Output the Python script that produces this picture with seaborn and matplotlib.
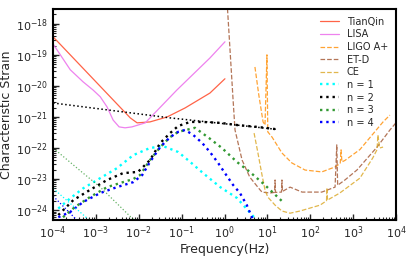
import numpy as np
import pandas as pd
import matplotlib
matplotlib.use("Agg")
import matplotlib.pyplot as plt
import seaborn as sns

# all values are log10(frequency / Hz) and log10(characteristic strain)
tianqin_lf = [-4.0, -2.20, -2.04, -1.74, -1.34, -0.92, -0.34, 0.01]
tianqin_lh = [-18.42, -21.03, -21.19, -21.16, -21.00, -20.71, -20.23, -19.77]

lisa_lf = [-4.0, -3.60, -3.30, -3.07, -2.90, -2.74, -2.60, -2.46, -2.32, -2.16, -1.85, -1.11, -0.34, 0.01]
lisa_lh = [-18.65, -19.48, -19.87, -20.13, -20.35, -20.68, -21.10, -21.32, -21.35, -21.32, -21.19, -20.13, -19.10, -18.58]

ligo_lf = [0.71, 0.80, 0.90, 0.945, 0.99, 1.01, 1.11, 1.34, 1.57, 1.88, 2.27, 2.58, 2.70, 2.72, 2.74, 2.81, 3.16, 3.70, 3.86]
ligo_lh = [-19.39, -20.29, -21.16, -21.26, -19.00, -21.48, -21.65, -22.16, -22.48, -22.71, -22.77, -22.61, -22.50, -22.06, -22.45, -22.40, -22.05, -21.16, -20.94]

etd_lf = [0.06, 0.20, 0.245, 0.41, 0.59, 0.83, 0.875, 1.06, 1.17, 1.18, 1.19, 1.33, 1.34, 1.35, 1.53, 1.81, 2.27, 2.58, 2.62, 2.64, 2.81, 3.09, 3.56, 3.86, 4.0]
etd_lh = [-17.30, -20.45, -21.42, -22.39, -22.94, -23.35, -23.42, -23.45, -23.43, -23.03, -23.43, -23.42, -23.03, -23.40, -23.26, -23.42, -23.42, -23.26, -21.90, -23.20, -23.03, -22.71, -21.97, -21.42, -21.19]

ce_lf = [0.69, 0.78, 0.875, 0.945, 1.01, 1.18, 1.34, 1.53, 1.76, 2.23, 2.38, 2.39, 2.40, 2.69, 3.16, 3.46, 3.56, 3.58, 3.62, 3.70]
ce_lh = [-21.52, -22.16, -22.87, -23.35, -23.58, -23.84, -24.03, -24.10, -24.03, -23.84, -23.70, -23.29, -23.68, -23.45, -22.97, -22.32, -22.05, -21.58, -22.00, -21.97]

n1_lf = [-3.88, -3.60, -3.30, -2.90, -2.51, -2.13, -1.74, -1.43, -1.08, -0.80, -0.50, -0.10, 0.29, 0.71, 0.85]
n1_lh = [-23.95, -23.62, -23.30, -22.97, -22.65, -22.23, -22.00, -21.94, -22.13, -22.45, -22.81, -23.26, -23.61, -24.26, -24.60]

n2_lf = [-3.88, -3.53, -3.14, -2.74, -2.37, -2.02, -1.90, -1.74, -1.50, -1.27, -1.08, -0.80, -0.52, -0.10, 0.29, 0.76, 1.18]
n2_lh = [-24.16, -23.68, -23.35, -23.03, -22.81, -22.77, -22.61, -22.39, -21.84, -21.52, -21.29, -21.16, -21.16, -21.19, -21.26, -21.32, -21.39]

n3_lf = [-3.77, -3.49, -3.14, -2.74, -2.37, -2.13, -1.97, -1.74, -1.50, -1.27, -1.08, -0.69, -0.36, -0.06, 0.29, 0.59, 0.94, 1.34]
n3_lh = [-24.23, -23.90, -23.58, -23.26, -23.10, -23.00, -22.87, -22.39, -21.97, -21.65, -21.48, -21.35, -21.68, -22.00, -22.45, -22.77, -23.19, -23.71]

n4_lf = [-3.88, -3.60, -3.30, -2.90, -2.51, -2.13, -1.92, -1.74, -1.50, -1.27, -1.08, -0.92, -0.73, -0.52, -0.34, -0.15, 0.01, 0.20, 0.36, 0.52, 0.64, 0.75]
n4_lh = [-24.23, -24.06, -23.74, -23.45, -23.26, -23.10, -22.87, -22.45, -21.97, -21.65, -21.48, -21.42, -21.58, -21.84, -22.13, -22.48, -22.81, -23.19, -23.45, -23.84, -24.23, -24.60]

# thin low-frequency branches
line2_lf = [-4.0, -1.27, 1.22]
line2_lh = [-20.55, -21.03, -21.40]
low3_lf = [-4.0, -3.30, -2.90, -2.16, -2.05]
low3_lh = [-22.00, -22.81, -23.26, -24.26, -24.40]
low1_lf = [-4.0, -3.21, -3.10]
low1_lh = [-23.30, -24.26, -24.40]
low4_lf = [-4.0, -3.49, -3.40]
low4_lh = [-23.55, -24.26, -24.40]


def curve(ax, lf, lh, **kw):
    df = pd.DataFrame({"f": 10.0 ** np.array(lf), "h": 10.0 ** np.array(lh)})
    sns.lineplot(data=df, x="f", y="h", ax=ax, sort=False, estimator=None, **kw)


sns.set_style("ticks")
plt.rcParams["font.family"] = ["DejaVu Sans"]

fig = plt.figure(figsize=(4.15, 2.57), dpi=100)
ax = fig.add_axes([0.128, 0.144, 0.826, 0.821])

curve(ax, tianqin_lf, tianqin_lh, color="tomato", lw=0.9, label="TianQin")
curve(ax, lisa_lf, lisa_lh, color="violet", lw=0.9, label="LISA")
curve(ax, ligo_lf, ligo_lh, color="darkorange", alpha=0.8, lw=0.9, linestyle="--", label="LIGO A+")
curve(ax, etd_lf, etd_lh, color="sienna", alpha=0.8, lw=0.9, linestyle="--", label="ET-D")
curve(ax, ce_lf, ce_lh, color="goldenrod", alpha=0.8, lw=0.9, linestyle="--", label="CE")
curve(ax, n1_lf, n1_lh, color="cyan", lw=1.7, linestyle=":", label="n = 1")
curve(ax, n2_lf, n2_lh, color="black", lw=1.7, linestyle=":", label="n = 2")
curve(ax, n3_lf, n3_lh, color="green", alpha=0.8, lw=1.7, linestyle=":", label="n = 3")
curve(ax, n4_lf, n4_lh, color="blue", lw=1.7, linestyle=":", label="n = 4")

curve(ax, line2_lf, line2_lh, color="black", lw=1.1, linestyle=":")
curve(ax, low3_lf, low3_lh, color="green", alpha=0.6, lw=0.9, linestyle=":")
curve(ax, low1_lf, low1_lh, color="cyan", lw=0.9, linestyle=":")
curve(ax, low4_lf, low4_lh, color="blue", lw=0.9, linestyle=":")

ax.set_xscale("log")
ax.set_yscale("log")
ax.set_xlim(1e-4, 1e4)
ax.set_ylim(4.8e-25, 3.0e-18)
ax.set_xticks([10.0 ** k for k in range(-4, 5)])
ax.set_yticks([10.0 ** k for k in range(-24, -17)])
ax.xaxis.set_minor_locator(matplotlib.ticker.LogLocator(base=10, subs=np.arange(2, 10), numticks=100))
ax.yaxis.set_minor_locator(matplotlib.ticker.LogLocator(base=10, subs=np.arange(2, 10), numticks=100))
ax.xaxis.set_minor_formatter(matplotlib.ticker.NullFormatter())
ax.yaxis.set_minor_formatter(matplotlib.ticker.NullFormatter())
ax.tick_params(which="both", direction="in", top=False, right=False, labelsize=8)
ax.tick_params(which="major", length=4, width=1)
ax.tick_params(which="minor", length=2.5, width=0.8)
for s in ax.spines.values():
    s.set_linewidth(1.5)
    s.set_color("black")

ax.set_xlabel("Frequency(Hz)", fontsize=9, labelpad=1)
ax.set_ylabel("Characteristic Strain", fontsize=9, labelpad=2)

handles, labels = ax.get_legend_handles_labels()
ax.legend(handles, labels, loc="upper right", frameon=False, fontsize=7,
          labelspacing=0.27, handlelength=2.0, borderaxespad=0.4)

fig.savefig("out.png", dpi=100)
